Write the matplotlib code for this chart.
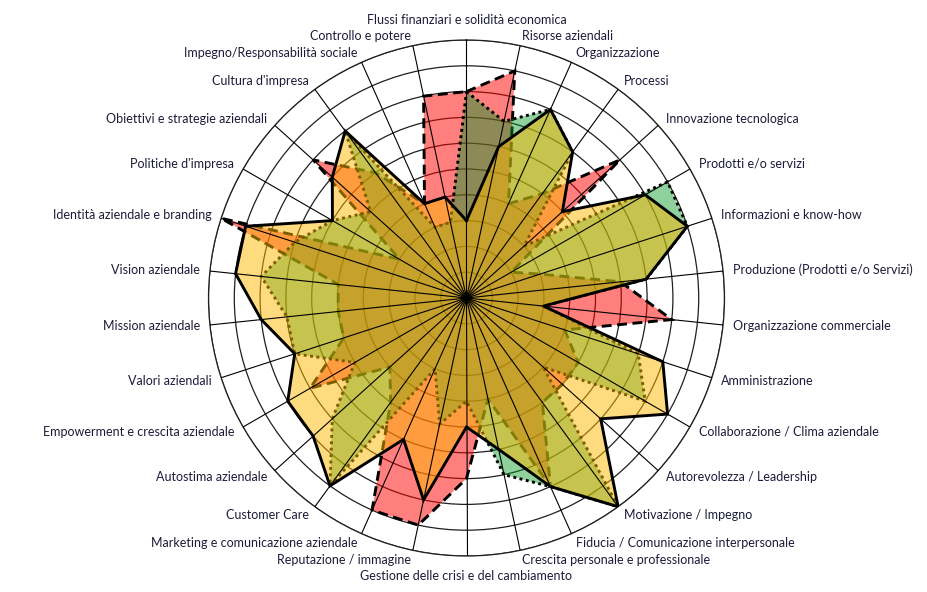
import numpy as np
import matplotlib
matplotlib.use("Agg")
import matplotlib.pyplot as plt

categories = [
    "Flussi finanziari e solidità economica", "Risorse aziendali", "Organizzazione",
    "Processi", "Innovazione tecnologica", "Prodotti e/o servizi",
    "Informazioni e know-how", "Produzione (Prodotti e/o Servizi)",
    "Organizzazione commerciale", "Amministrazione", "Collaborazione / Clima aziendale",
    "Autorevolezza / Leadership", "Motivazione / Impegno",
    "Fiducia / Comunicazione interpersonale", "Crescita personale e professionale",
    "Gestione delle crisi e del cambiamento", "Reputazione / immagine",
    "Marketing e comunicazione aziendale", "Customer Care", "Autostima aziendale",
    "Empowerment e crescita aziendale", "Valori aziendali", "Mission aziendale",
    "Vision aziendale", "Identità aziendale e branding", "Politiche d'impresa",
    "Obiettivi e strategie aziendali", "Cultura d'impresa",
    "Impegno/Responsabilità sociale", "Controllo e potere",
]

serie_rossa = [8, 9, 4, 5, 8, 2, 3, 6, 8, 4, 5, 5, 5, 8, 4, 7, 9, 9, 5, 4, 7, 5, 5, 5, 10, 3, 8, 6, 4, 8]
serie_verde = [8, 7, 8, 7, 3, 9, 9, 7, 3, 7, 8, 4, 10, 8, 7, 4, 5, 3, 9, 7, 5, 7, 7, 8, 7, 6, 5, 8, 3, 3]
serie_gialla = [3, 6, 8, 7, 5, 8, 9, 7, 3, 8, 9, 7, 10, 8, 6, 5, 8, 6, 9, 8, 8, 7, 8, 9, 9, 6, 7, 8, 4, 4]

scale_max = 10

W, H = 928, 592
fig = plt.figure(figsize=(W / 100, H / 100), dpi=100)
cx, cy, R = 466.5, 298, 258
ax = fig.add_axes([(cx - R) / W, (H - cy - R) / H, 2 * R / W, 2 * R / H], projection="polar")
ax.set_theta_zero_location("N")
ax.set_theta_direction(-1)
ax.set_ylim(0, scale_max)

n = len(categories)
theta = np.arange(n) * 2 * np.pi / n
tc = np.append(theta, theta[0])

# grid rings (below fills)
ax.set_xticks([])
ax.set_yticks(np.arange(1, scale_max + 1))
ax.set_yticklabels([])
ax.yaxis.grid(True, color="#202020", lw=0.9)
ax.xaxis.grid(False)
ax.set_axisbelow(True)
ax.spines["polar"].set_color("#202020")
ax.spines["polar"].set_linewidth(0.9)
ax.spines["polar"].set_zorder(0.5)

series = [
    (serie_rossa, (1.0, 0.0, 0.0), 0.5, (0, (3.4, 1.9))),
    (serie_verde, (0.024, 0.60, 0.153), 0.45, (0, (1.0, 1.2))),
    (serie_gialla, (1.0, 0.725, 0.0), 0.5, "-"),
]
z = 2
for vals, col, a, ls in series:
    vc = np.append(vals, vals[0])
    ax.fill(tc, vc, color=col, alpha=a, lw=0, zorder=z)
    ax.plot(tc, vc, color="black", lw=2.1, linestyle=ls, zorder=z + 1,
            solid_joinstyle="miter", dash_joinstyle="miter")
    z += 2

# spokes on top
for t in theta:
    ax.plot([t, t], [0, scale_max], color="black", lw=0.8, zorder=20)

# labels
for t, lab in zip(theta, categories):
    s, c = np.sin(t), np.cos(t)
    if abs(s) < 0.05:
        r = scale_max * (R + 14) / R
        ha = "center"
        va = "bottom" if c > 0 else "top"
    else:
        r = scale_max * (R + 10) / R
        ha = "left" if s > 0 else "right"
        va = "center"
    ax.text(t, r, lab, ha=ha, va=va, fontsize=9, family="Lato",
            color="#1c1c3a", clip_on=False)

fig.savefig("out.png", dpi=100, facecolor="white")
